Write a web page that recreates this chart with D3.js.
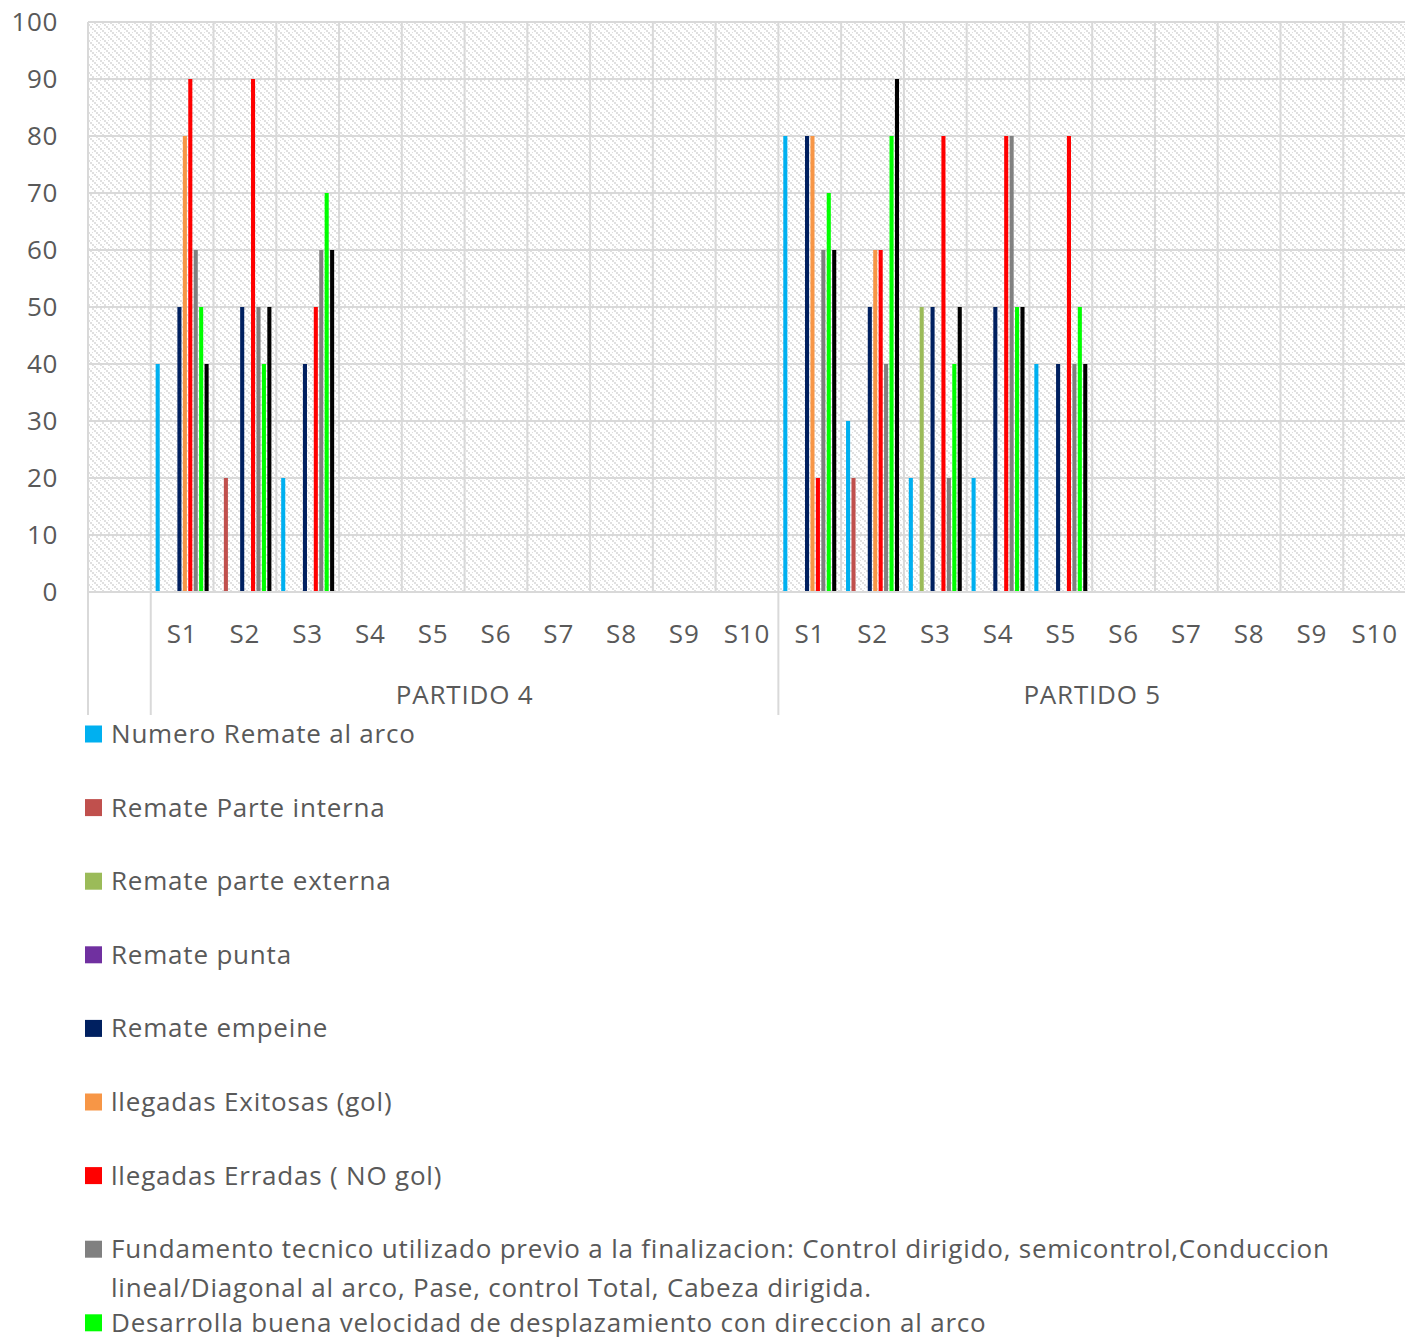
<!DOCTYPE html>
<html>
<head>
<meta charset="utf-8">
<script src="https://cdn.jsdelivr.net/npm/d3@7"></script>
<style>
  body { margin: 0; background: #fff; }
  text { font-family: "Open Sans", sans-serif; fill: #595959; }
</style>
</head>
<body>
<svg id="chart" width="1405" height="1337"></svg>
<script>
// categories: one empty slot, then PARTIDO 4 S1..S10, PARTIDO 5 S1..S10
var groups = ["PARTIDO 4", "PARTIDO 5"];
var sessions = ["S1", "S2", "S3", "S4", "S5", "S6", "S7", "S8", "S9", "S10"];

var seriesNames = [
  "Numero Remate al arco",
  "Remate Parte interna",
  "Remate parte externa",
  "Remate punta",
  "Remate empeine",
  "llegadas Exitosas (gol)",
  "llegadas Erradas ( NO gol)",
  "Fundamento tecnico utilizado previo a la finalizacion: Control dirigido, semicontrol,Conduccion lineal/Diagonal al arco, Pase, control Total, Cabeza dirigida.",
  "Desarrolla buena velocidad de desplazamiento con direccion al arco",
  "Serie 10"
];
var seriesColors = ["#00b0f0", "#c0504d", "#9bbb59", "#7030a0", "#002060",
                    "#f79646", "#ff0000", "#808080", "#00ff00", "#000000"];

// values per series, for S1..S10 of each partido
var remateArco4    = [40, 0, 20, 0, 0, 0, 0, 0, 0, 0];
var remateArco5    = [80, 30, 20, 20, 40, 0, 0, 0, 0, 0];
var parteInterna4  = [0, 20, 0, 0, 0, 0, 0, 0, 0, 0];
var parteInterna5  = [0, 20, 0, 0, 0, 0, 0, 0, 0, 0];
var parteExterna4  = [0, 0, 0, 0, 0, 0, 0, 0, 0, 0];
var parteExterna5  = [0, 0, 50, 0, 0, 0, 0, 0, 0, 0];
var punta4         = [0, 0, 0, 0, 0, 0, 0, 0, 0, 0];
var punta5         = [0, 0, 0, 0, 0, 0, 0, 0, 0, 0];
var empeine4       = [50, 50, 40, 0, 0, 0, 0, 0, 0, 0];
var empeine5       = [80, 50, 50, 50, 40, 0, 0, 0, 0, 0];
var exitosas4      = [80, 0, 0, 0, 0, 0, 0, 0, 0, 0];
var exitosas5      = [80, 60, 0, 0, 0, 0, 0, 0, 0, 0];
var erradas4       = [90, 90, 50, 0, 0, 0, 0, 0, 0, 0];
var erradas5       = [20, 60, 80, 80, 80, 0, 0, 0, 0, 0];
var fundamento4    = [60, 50, 60, 0, 0, 0, 0, 0, 0, 0];
var fundamento5    = [60, 40, 20, 80, 40, 0, 0, 0, 0, 0];
var velocidad4     = [50, 40, 70, 0, 0, 0, 0, 0, 0, 0];
var velocidad5     = [70, 80, 40, 50, 50, 0, 0, 0, 0, 0];
var serie10_4      = [40, 50, 60, 0, 0, 0, 0, 0, 0, 0];
var serie10_5      = [60, 90, 50, 50, 40, 0, 0, 0, 0, 0];

var seriesValues = [
  remateArco4.concat(remateArco5),
  parteInterna4.concat(parteInterna5),
  parteExterna4.concat(parteExterna5),
  punta4.concat(punta5),
  empeine4.concat(empeine5),
  exitosas4.concat(exitosas5),
  erradas4.concat(erradas5),
  fundamento4.concat(fundamento5),
  velocidad4.concat(velocidad5),
  serie10_4.concat(serie10_5)
];

var yTicks = [0, 10, 20, 30, 40, 50, 60, 70, 80, 90, 100];

var svg = d3.select("#chart");
var plotLeft = 88, plotRight = 1406, plotTop = 22, plotBottom = 592;

// category keys: "empty" for the blank slot, then "group|session"
var cats = ["empty"];
groups.forEach(function(g) {
  sessions.forEach(function(s) { cats.push(g + "|" + s); });
});

var x0 = d3.scaleBand().domain(cats).range([plotLeft, plotRight]).padding(0);
var x1 = d3.scaleBand().domain(d3.range(seriesNames.length))
    .range([0, x0.bandwidth()]).paddingInner(0.25).paddingOuter(0.9);
var y = d3.scaleLinear().domain([0, 100]).range([plotBottom, plotTop]);

// hatch pattern for plot background
var defs = svg.append("defs");
var pat = defs.append("pattern")
    .attr("id", "hatch")
    .attr("patternUnits", "userSpaceOnUse")
    .attr("width", 8).attr("height", 8);
[[0, 0], [2, 2], [4, 4], [6, 6], [4, 0], [0, 4]].forEach(function(p, i) {
  pat.append("rect").attr("x", p[0]).attr("y", p[1])
      .attr("width", i < 4 ? 2 : 1).attr("height", i < 4 ? 2 : 1)
      .attr("fill", "#e0e0e0");
});

svg.append("rect")
    .attr("x", plotLeft).attr("y", plotTop)
    .attr("width", plotRight - plotLeft).attr("height", plotBottom - plotTop)
    .attr("fill", "url(#hatch)");

// gridlines
var grid = svg.append("g").attr("stroke", "#d9d9d9").attr("stroke-width", 2);
grid.selectAll("line.h")
  .data(yTicks)
  .enter().append("line")
    .attr("x1", plotLeft).attr("x2", plotRight)
    .attr("y1", function(d) { return y(d); })
    .attr("y2", function(d) { return y(d); });
grid.selectAll("line.v")
  .data(cats)
  .enter().append("line")
    .attr("x1", function(d) { return x0(d); })
    .attr("x2", function(d) { return x0(d); })
    .attr("y1", plotTop).attr("y2", plotBottom);

// bars
var barG = svg.append("g");
seriesValues.forEach(function(vals, si) {
  barG.selectAll(null)
    .data(vals.map(function(v, i) { return { cat: cats[i + 1], v: v }; })
              .filter(function(d) { return d.v > 0; }))
    .enter().append("rect")
      .attr("x", function(d) { return x0(d.cat) + x1(si); })
      .attr("width", x1.bandwidth())
      .attr("y", function(d) { return y(d.v); })
      .attr("height", function(d) { return y(0) - y(d.v); })
      .attr("fill", seriesColors[si]);
});

// y axis labels
svg.append("g").selectAll("text")
  .data(yTicks)
  .enter().append("text")
    .attr("x", 58)
    .attr("y", function(d) { return y(d); })
    .attr("dy", "0.36em")
    .attr("text-anchor", "end")
    .style("font-size", "26px")
    .style("letter-spacing", "0.6px")
    .text(function(d) { return d; });

// x axis: baseline, group separators, labels
var axis = svg.append("g").attr("stroke", "#d9d9d9").attr("stroke-width", 2);
axis.append("line").attr("x1", plotLeft).attr("x2", plotRight)
    .attr("y1", plotBottom).attr("y2", plotBottom);
var seps = [cats[0], groups[0] + "|S1", groups[1] + "|S1"];
axis.selectAll("line.sep")
  .data(seps)
  .enter().append("line")
    .attr("x1", function(d) { return x0(d); })
    .attr("x2", function(d) { return x0(d); })
    .attr("y1", plotBottom).attr("y2", 715);

svg.append("g").selectAll("text")
  .data(cats.slice(1))
  .enter().append("text")
    .attr("x", function(d) { return x0(d) + x0.bandwidth() / 2; })
    .attr("y", 643)
    .attr("text-anchor", "middle")
    .style("font-size", "26px")
    .style("letter-spacing", "0.8px")
    .text(function(d) { return d.split("|")[1]; });

svg.append("g").selectAll("text")
  .data(groups)
  .enter().append("text")
    .attr("x", function(g) {
      return (x0(g + "|S1") + x0(g + "|S10") + x0.bandwidth()) / 2;
    })
    .attr("y", 704)
    .attr("text-anchor", "middle")
    .style("font-size", "26px")
    .style("letter-spacing", "0.8px")
    .text(function(g) { return g; });

// legend (last entry falls below the visible area)
var legend = svg.append("g");
var legendTop = 743, legendStep = 73.6;
seriesNames.slice(0, 9).forEach(function(name, i) {
  var by = legendTop + i * legendStep;
  legend.append("rect")
      .attr("x", 85).attr("y", by - 17.5)
      .attr("width", 17).attr("height", 17)
      .attr("fill", seriesColors[i]);
  var t = legend.append("text")
      .attr("x", 111).attr("y", by)
      .style("font-size", "26px")
      .style("letter-spacing", "0.8px");
  // simple word wrap
  var words = name.split(" ");
  var line = [];
  var tspan = t.append("tspan").attr("x", 111).attr("dy", 0);
  words.forEach(function(w) {
    line.push(w);
    tspan.text(line.join(" "));
    if (tspan.node().getComputedTextLength() > 1285 && line.length > 1) {
      line.pop();
      tspan.text(line.join(" "));
      line = [w];
      tspan = t.append("tspan").attr("x", 111).attr("dy", 39).text(w);
    }
  });
});
</script>
</body>
</html>
